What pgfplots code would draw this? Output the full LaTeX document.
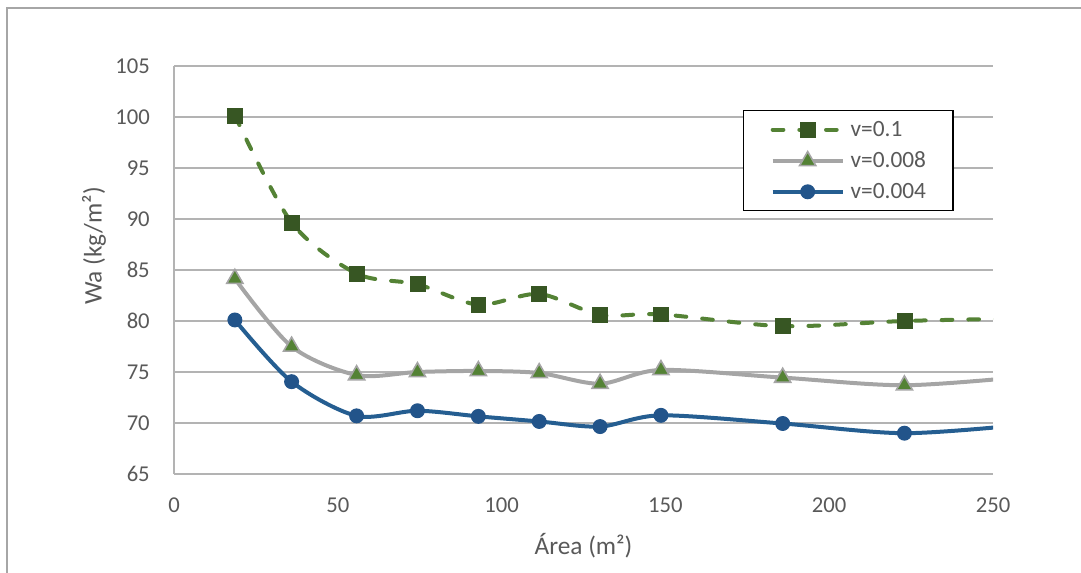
\documentclass[border=0pt]{standalone}
\usepackage{fontspec}
\setmainfont{Carlito}
\usepackage{pgfplots}
\pgfplotsset{compat=1.18}
\definecolor{gridc}{HTML}{B3B3B3}
\definecolor{framec}{HTML}{A6A6A6}
\definecolor{tickc}{HTML}{595959}
\definecolor{greenline}{HTML}{548235}
\definecolor{greenmark}{HTML}{375623}
\definecolor{grayline}{HTML}{A5A5A5}
\definecolor{greentri}{HTML}{548235}
\definecolor{blueline}{HTML}{255E91}
\definecolor{bluemark}{HTML}{22548A}
\begin{document}
\begin{tikzpicture}
\draw[color=framec, line width=1.1pt] (5.25pt,-30pt) rectangle (850pt,423.75pt);
\begin{axis}[
  at={(130.5pt,74.25pt)}, anchor=south west,
  scale only axis, width=614.25pt, height=306pt,
  xmin=0, xmax=250, ymin=65, ymax=105,
  xtick={0,50,...,250}, ytick={65,70,...,105},
  axis x line*=bottom, axis y line*=left,
  axis line style={draw=gridc, line width=1pt, -},
  ymajorgrids, grid style={gridc, line width=1pt},
  major tick length=0pt, tick style={draw=none},
  /pgf/number format/assume math mode=true,
  tick label style={font=\fontsize{17}{20}\selectfont, text=tickc},
  yticklabel style={anchor=east, inner sep=0pt, xshift=-18pt},
  xticklabel style={anchor=center, inner sep=0pt, yshift=-23.25pt},
  xlabel={Área (m²)},
  xlabel style={at={(rel axis cs:0.5,-0.1985)}, anchor=base, font=\fontsize{19}{22}\selectfont, text=tickc},
  ylabel={Wa (kg/m²)},
  ylabel style={at={(rel axis cs:-0.0977,0.559)}, anchor=center, font=\fontsize{19}{22}\selectfont, text=tickc},
  legend cell align=left,
  legend image code/.code={\draw[mark repeat=2,mark phase=2] plot coordinates {(0pt,0pt) (26.25pt,0pt) (52.5pt,0pt)};},
  legend style={at={(rel axis cs:0.6947,0.8922)}, anchor=north west, draw=black, line width=1.1pt, fill=white,
    font=\fontsize{17.5}{20}\selectfont, text=tickc, inner xsep=20.25pt, inner ysep=7.8pt, row sep=10pt, column sep=4.5pt,
    nodes={inner sep=0pt}},
]
\addplot[color=greenline, line width=3pt, dash pattern=on 8pt off 12pt, line cap=round, smooth,
  mark=square*, mark size=5.6pt, mark options={solid, fill=greenmark, draw=greenmark, line width=0.5pt}]
  coordinates {(18.58,100.15) (35.9,89.65) (55.74,84.65) (74.32,83.6) (92.90,81.6) (111.48,82.65) (130.06,80.6) (148.64,80.65) (185.80,79.5) (222.96,80.0) (260.12,80.25)};
\addlegendentry{v=0.1}
\addplot[color=grayline, line width=3pt, smooth,
  mark=triangle*, mark size=7pt, mark options={fill=greentri, draw=grayline, line width=1.2pt}]
  coordinates {(18.58,84.15) (35.9,77.5) (55.74,74.7) (74.32,75.0) (92.90,75.1) (111.48,74.9) (130.06,73.85) (148.64,75.2) (185.80,74.45) (222.96,73.7) (260.12,74.55)};
\addlegendentry{v=0.008}
\addplot[color=blueline, line width=3pt, smooth,
  mark=*, mark size=5.2pt, mark options={fill=bluemark, draw=bluemark, line width=0.8pt}]
  coordinates {(18.58,80.1) (35.9,74.05) (55.74,70.7) (74.32,71.2) (92.90,70.65) (111.48,70.15) (130.06,69.65) (148.64,70.75) (185.80,69.95) (222.96,69.0) (260.12,69.85)};
\addlegendentry{v=0.004}
\end{axis}
\pgfresetboundingbox
\useasboundingbox (0,0) rectangle (810.75pt,429.75pt);
\end{tikzpicture}
\end{document}
